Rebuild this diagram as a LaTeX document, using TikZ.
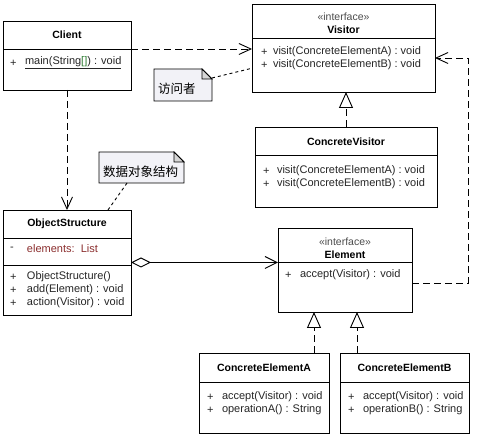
\documentclass[tikz,border=0pt]{standalone}
\usepackage{fontspec}
\setmainfont{Liberation Sans}
\newfontfamily\cjk{Noto Sans CJK SC}
\usetikzlibrary{arrows.meta, calc}

\definecolor{notefill}{HTML}{F2F2F7}
\definecolor{foldfill}{HTML}{D6D6D6}
\definecolor{attrred}{HTML}{8B2E2E}
\definecolor{arraygreen}{HTML}{2E7D32}

\begin{document}
\begin{tikzpicture}[
    x=1pt, y=-1pt,
    every node/.style={inner sep=0pt, outer sep=0pt},
    umlbox/.style={rectangle, draw=black, fill=white, line width=0.9pt, anchor=north west},
    classname/.style={font=\fontsize{10.5}{12}\selectfont\bfseries},
    stereo/.style={font=\fontsize{10.5}{12}\selectfont, text=black!70},
    member/.style={font=\fontsize{11}{13}\selectfont, anchor=west, text=black!85},
    divider/.style={line width=0.9pt},
    notetext/.style={font=\cjk\fontsize{12.5}{14}\selectfont, anchor=west},
    noteline/.style={draw=black, fill=notefill, line width=0.8pt},
    depend/.style={line width=0.9pt, dash pattern=on 7pt off 4pt, -{Straight Barb[length=12pt, width=11pt]}},
    realize/.style={line width=0.9pt, dash pattern=on 7pt off 4pt, -{Triangle[open, length=16pt, width=14pt, fill=white]}},
    aggregate/.style={line width=0.9pt, {Diamond[open, length=20pt, width=10pt, fill=white]}-{Straight Barb[length=12pt, width=12pt]}},
    anchorline/.style={line width=0.9pt, dash pattern=on 3pt off 3pt}
]
\useasboundingbox (0,0) rectangle (477,435);
\fill[white] (0,0) rectangle (477,435);

% Client
\node[umlbox, minimum width=128pt, minimum height=69pt] (client) at (3,21) {};
\coordinate (clientdiv) at (3,49);
\draw[divider] (clientdiv) -- (clientdiv -| client.east);
\node[classname] (clientname) at (67,35) {Client};
\node[member] (clientvis) at (10,63) {+};
\node[member] (clientmain) at (25,63) {\underline{main(String{\color{arraygreen}[]}) : void}};

% Visitor interface
\node[umlbox, minimum width=183pt, minimum height=88pt] (visitor) at (252,4) {};
\coordinate (visitordiv) at (252,38);
\draw[divider] (visitordiv) -- (visitordiv -| visitor.east);
\node[stereo] (visitorstereo) at (343.5,17) {«interface»};
\node[classname] (visitorname) at (343.5,30) {Visitor};
\node[member] (visitorvis1) at (261,52) {+};
\node[member] (visitorm1) at (273,52) {visit(ConcreteElementA) : void};
\node[member] (visitorvis2) at (261,65) {+};
\node[member] (visitorm2) at (273,65) {visit(ConcreteElementB) : void};

% ConcreteVisitor
\node[umlbox, minimum width=182pt, minimum height=80pt] (cvisitor) at (255,127) {};
\coordinate (cvisitordiv) at (255,155);
\draw[divider] (cvisitordiv) -- (cvisitordiv -| cvisitor.east);
\node[classname] (cvisitorname) at (346,142) {ConcreteVisitor};
\node[member] (cvisitorvis1) at (263,171) {+};
\node[member] (cvisitorm1) at (277,171) {visit(ConcreteElementA) : void};
\node[member] (cvisitorvis2) at (263,184) {+};
\node[member] (cvisitorm2) at (277,184) {visit(ConcreteElementB) : void};

% ObjectStructure
\node[umlbox, minimum width=128pt, minimum height=105pt] (objstruct) at (3,210) {};
\coordinate (objstructdiv1) at (3,238);
\coordinate (objstructdiv2) at (3,265);
\draw[divider] (objstructdiv1) -- (objstructdiv1 -| objstruct.east);
\draw[divider] (objstructdiv2) -- (objstructdiv2 -| objstruct.east);
\node[classname] (objstructname) at (67,224) {ObjectStructure};
\node[member] (objstructvis0) at (10,249) {-};
\node[member, text=attrred] (objstructattr) at (27,249) {elements:\ \ List};
\node[member] (objstructvis1) at (10,277) {+};
\node[member] (objstructm1) at (27,277) {ObjectStructure()};
\node[member] (objstructvis2) at (10,290) {+};
\node[member] (objstructm2) at (27,290) {add(Element) : void};
\node[member] (objstructvis3) at (10,303) {+};
\node[member] (objstructm3) at (27,303) {action(Visitor) : void};

% Element interface
\node[umlbox, minimum width=134pt, minimum height=84pt] (element) at (278,228) {};
\coordinate (elementdiv) at (278,262);
\draw[divider] (elementdiv) -- (elementdiv -| element.east);
\node[stereo] (elementstereo) at (345,242) {«interface»};
\node[classname] (elementname) at (345,255) {Element};
\node[member] (elementvis1) at (285,275) {+};
\node[member] (elementm1) at (300,275) {accept(Visitor) : void};

% ConcreteElementA / ConcreteElementB
\node[umlbox, minimum width=130pt, minimum height=80pt] (elema) at (199,353) {};
\coordinate (elemadiv) at (199,382);
\draw[divider] (elemadiv) -- (elemadiv -| elema.east);
\node[classname] (elemaname) at (264,368) {ConcreteElementA};
\node[member] (elemavis1) at (207,397) {+};
\node[member] (elemam1) at (222,397) {accept(Visitor) : void};
\node[member] (elemavis2) at (207,410) {+};
\node[member] (elemam2) at (222,410) {operationA() : String};

\node[umlbox, minimum width=129pt, minimum height=80pt] (elemb) at (340,353) {};
\coordinate (elembdiv) at (340,382);
\draw[divider] (elembdiv) -- (elembdiv -| elemb.east);
\node[classname] (elembname) at (404.5,368) {ConcreteElementB};
\node[member] (elembvis1) at (348,397) {+};
\node[member] (elembm1) at (363,397) {accept(Visitor) : void};
\node[member] (elembvis2) at (348,410) {+};
\node[member] (elembm2) at (363,410) {operationB() : String};

% Notes
\node[minimum width=58pt, minimum height=32pt, anchor=north west] (note1) at (154,69) {};
\draw[noteline] (note1.north west) -- ([xshift=-10pt]note1.north east) -- ([yshift=-10pt]note1.north east) -- (note1.south east) -- (note1.south west) -- cycle;
\draw[noteline, fill=foldfill] ([xshift=-10pt]note1.north east) -- ([xshift=-10pt, yshift=-10pt]note1.north east) -- ([yshift=-10pt]note1.north east) -- cycle;
\node[notetext] (note1text) at (158,89) {访问者};

\node[minimum width=85pt, minimum height=31pt, anchor=north west] (note2) at (99,152) {};
\draw[noteline] (note2.north west) -- ([xshift=-10pt]note2.north east) -- ([yshift=-10pt]note2.north east) -- (note2.south east) -- (note2.south west) -- cycle;
\draw[noteline, fill=foldfill] ([xshift=-10pt]note2.north east) -- ([xshift=-10pt, yshift=-10pt]note2.north east) -- ([yshift=-10pt]note2.north east) -- cycle;
\node[notetext] (note2text) at (103,172) {数据对象结构};

% Connectors
\draw[depend] (client.east |- clientdiv) -- (visitor.west |- clientdiv);
\draw[depend] (client.south) -- (objstruct.north);
\draw[realize] (cvisitor.north) -- (cvisitor.north |- visitor.south);
\draw[aggregate] (objstruct.east) -- (objstruct.east -| element.west);
\coordinate (elemafoot) at (314,353);
\coordinate (elembfoot) at (357,353);
\draw[realize] (elemafoot) -- (elemafoot |- element.south);
\draw[realize] (elembfoot) -- (elembfoot |- element.south);
\coordinate (elementret) at (412,283);
\coordinate (visitorhook) at (468,58);
\draw[depend] (elementret) -| (visitorhook) -- (visitorhook -| visitor.east);
\draw[anchorline] ([yshift=-9pt]note1.north east) -- ($(visitor.north west)!0.73!(visitor.south west)$);
\draw[anchorline] ($(note2.south west)!0.33!(note2.south east)$) -- ($(objstruct.north west)!0.82!(objstruct.north east)$);

\end{tikzpicture}
\end{document}
